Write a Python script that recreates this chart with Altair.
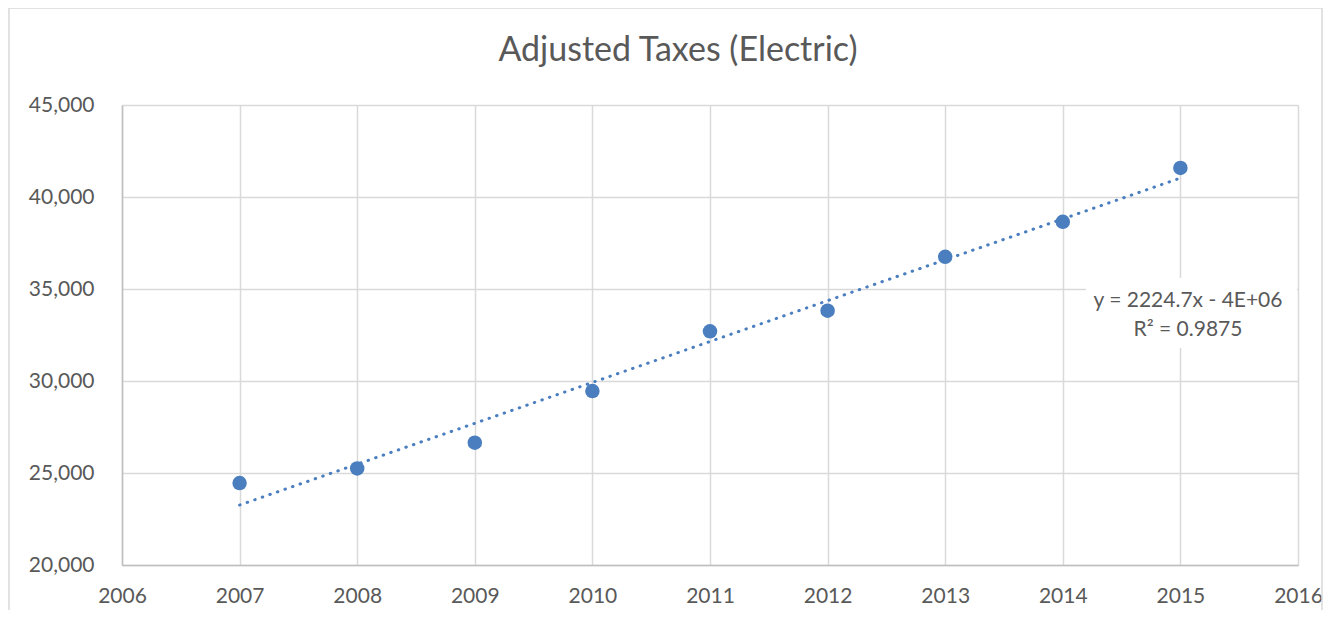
import altair as alt
import pandas as pd

years = [2007, 2008, 2009, 2010, 2011, 2012, 2013, 2014, 2015]
taxes = [24450, 25250, 26650, 29450, 32700, 33820, 36750, 38650, 41580]

title_text = "Adjusted Taxes (Electric)"
eq_line1 = "y = 2224.7x - 4E+06"
eq_line2 = "R² = 0.9875"

df = pd.DataFrame({"year": years, "taxes": taxes})

FONT = "Lato"
BLUE = "#4a7ebf"
GRID = "#d9d9d9"
LABEL = "#595959"

W, H = 1176, 460

x_scale = alt.Scale(domain=[2006, 2016], nice=False, zero=False)
y_scale = alt.Scale(domain=[20000, 45000], nice=False, zero=False)

base = alt.Chart(df)

x_axis = alt.Axis(title=None, values=list(range(2006, 2017)), format="d",
                  labelFont=FONT, labelFontSize=21, labelColor=LABEL,
                  labelPadding=20, ticks=False, domainColor="#bfbfbf",
                  gridColor=GRID, gridWidth=1.5, labelFlush=False)
y_axis = alt.Axis(title=None, values=list(range(20000, 45001, 5000)), format=",.0f",
                  labelFont=FONT, labelFontSize=21, labelColor=LABEL,
                  labelPadding=28, ticks=False, domainColor="#bfbfbf",
                  gridColor=GRID, gridWidth=1.5)

points = base.mark_circle(size=210, opacity=1, color=BLUE).encode(
    x=alt.X("year:Q", scale=x_scale, axis=x_axis),
    y=alt.Y("taxes:Q", scale=y_scale, axis=y_axis),
)

trend = base.transform_regression("year", "taxes", extent=[2007, 2015]).mark_line(
    color=BLUE, strokeWidth=3, strokeDash=[0.5, 7.5], strokeCap="round"
).encode(x=alt.X("year:Q", scale=x_scale, axis=x_axis),
         y=alt.Y("taxes:Q", scale=y_scale, axis=y_axis))

one = pd.DataFrame({"k": [0]})

eq_box = alt.Chart(one).mark_rect(color="white").encode(
    x=alt.value(964), x2=alt.value(1175), y=alt.value(173), y2=alt.value(243)
)

eq_text1 = alt.Chart(one).mark_text(
    font=FONT, fontSize=21, color=LABEL, align="center", baseline="alphabetic",
    text=eq_line1,
).encode(x=alt.value(1066), y=alt.value(202))

eq_text2 = alt.Chart(one).mark_text(
    font=FONT, fontSize=21, color=LABEL, align="center", baseline="alphabetic",
    text=eq_line2,
).encode(x=alt.value(1066), y=alt.value(231))

title = alt.Chart(one).mark_text(
    font=FONT, fontSize=34, color=LABEL, align="center", baseline="alphabetic",
    text=title_text,
).encode(x=alt.value(556), y=alt.value(-44))

border = alt.Chart(one).mark_rect(
    fill=None, stroke=GRID, strokeWidth=1.5
).encode(x=alt.value(-113), x2=alt.value(W + 24), y=alt.value(-97), y2=alt.value(H + 60))

chart = alt.layer(border, points, trend, eq_box, eq_text1, eq_text2, title).properties(
    width=W, height=H,
    autosize=alt.AutoSizeParams(type="none"),
    padding={"left": 114, "top": 97, "right": 26, "bottom": 45},
).configure_view(stroke=None).configure_axis(domainWidth=1.5)

chart.save("out.html", embed_options={"renderer": "svg", "actions": False})
